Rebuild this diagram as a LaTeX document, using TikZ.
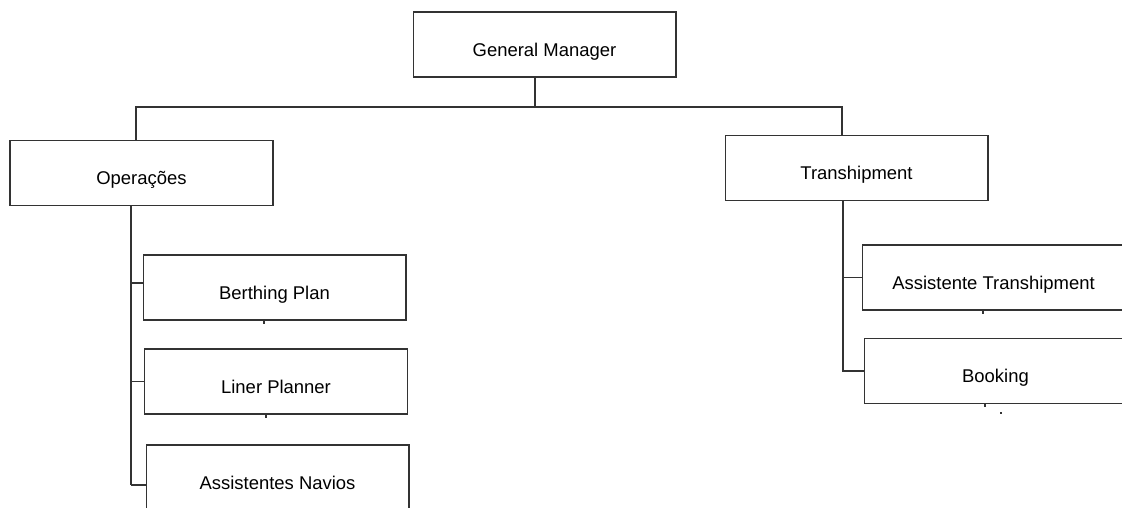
\documentclass[tikz,border=0pt]{standalone}
\usepackage{fontspec}
\setmainfont{Liberation Sans}
\begin{document}
\begin{tikzpicture}
    [x=0.02cm,y=-0.02cm,line width=0.6pt,
     box/.style={rectangle,draw=black!80,minimum width=5.26cm,inner xsep=0pt,inner ysep=0pt,
                 text height=25.1pt,text depth=11.9pt,font=\fontsize{10.5}{12}\selectfont},
     line/.style={draw=black!80}]
    \clip (0,0) rectangle (1122,507);
    \node[box] (gm) at (544.5,44.5) {General Manager};
    \node[box] (ops) at (141.5,173) {Operações};
    \node[box] (trans) at (856.5,168) {Transhipment};
    \node[box] (berth) at (274.5,287.5) {Berthing Plan};
    \node[box] (liner) at (276,381.5) {Liner Planner};
    \node[box] (navios) at (277.5,477.5) {Assistentes Navios};
    \node[box] (assist) at (993.5,277.5) {Assistente Transhipment};
    \node[box] (booking) at (995.5,371) {Booking};
    
    \coordinate (busL) at (136,107);
    \coordinate (busM) at (535,107);
    \coordinate (busR) at (842,107);
    \coordinate (trunkL) at (131,0);
    \coordinate (trunkR) at (843,0);
    
    \draw[line] (gm.south -| busM) -- (busM);
    \draw[line] (ops.north -| busL) -- (busL) -- (busR) -- (trans.north -| busR);
    \draw[line] (ops.south -| trunkL) -- (trunkL |- navios.west) -- ++(0,7.5);
    \draw[line] ([yshift=0.09cm]berth.west -| trunkL) -- ([yshift=0.09cm]berth.west);
    \draw[line] (liner.west -| trunkL) -- (liner.west);
    \draw[line] ([yshift=-0.15cm]navios.west -| trunkL) -- ([yshift=-0.15cm]navios.west);
    \draw[line] (trans.south -| trunkR) -- (trunkR |- booking.west) -- (booking.west);
    \draw[line] (assist.west -| trunkR) -- (assist.west);
    
    \draw[line] (berth.south -| 264,0) -- ++(0,3);
    \draw[line] (liner.south -| 266,0) -- ++(0,3);
    \draw[line] (assist.south -| 983,0) -- ++(0,3);
    \draw[line] (booking.south -| 985,0) -- ++(0,3);
    \draw[line] (1001,412) -- (1001,414);
  \end{tikzpicture}
\end{document}
